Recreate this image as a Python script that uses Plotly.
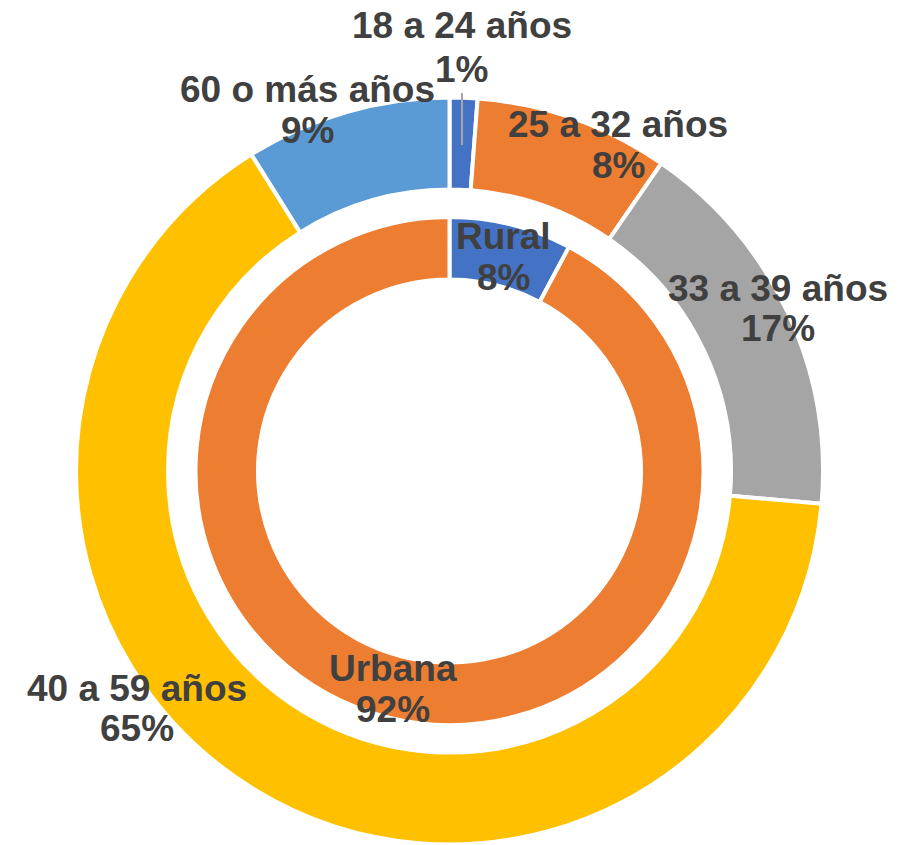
import plotly.graph_objects as go

# ---- data ----
age_labels = ["18 a 24 años", "25 a 32 años", "33 a 39 años", "40 a 59 años", "60 o más años"]
age_values = [1.2, 8.4, 16.8, 64.7, 8.9]
age_colors = ["#4472C4", "#ED7D31", "#A5A5A5", "#FFC000", "#5B9BD5"]

area_labels = ["Rural", "Urbana"]
area_values = [7.8, 92.2]
area_colors = ["#4472C4", "#ED7D31"]

OFF = 8  # page body margin
W, H = 913 - OFF, 845 - OFF
cx, cy = 449.5 - OFF, 471 - OFF
r_out, r_in = 373.5, 254

def dom(r):
    y0 = max(0.0, (H - cy - r) / H)
    y1 = min(1.0, (H - cy + r) / H)
    return dict(x=[(cx - r) / W, (cx + r) / W], y=[y0, y1])

fig = go.Figure()
fig.add_trace(go.Pie(
    labels=age_labels, values=age_values, hole=281.5 / r_out, sort=False,
    direction="clockwise", rotation=0, textinfo="none", hoverinfo="label+percent",
    marker=dict(colors=age_colors, line=dict(color="white", width=4)),
    domain=dom(r_out), showlegend=False,
))
fig.add_trace(go.Pie(
    labels=area_labels, values=area_values, hole=191.5 / r_in, sort=False,
    direction="clockwise", rotation=0, textinfo="none", hoverinfo="label+percent",
    marker=dict(colors=area_colors, line=dict(color="white", width=4)),
    domain=dom(r_in), showlegend=False,
))

# label placement (page-pixel centers of the two text lines)
age_pos = [(462, 26, 461, 69), (618, 125, 618, 166), (778, 288, 778, 329),
           (137, 688, 137, 728), (307, 89, 307, 131)]
area_pos = [(504, 237, 504, 277), (393, 668, 393, 709)]

def pct(vals):
    t = sum(vals)
    return [f"{v / t * 100:.0f}%" for v in vals]

font = dict(family="Liberation Sans, Arial, sans-serif", size=37, color="#404040")
anns = []
def px(x, y):
    return (x - OFF) / W, 1 - (y - OFF) / H

def add(label, p, pos):
    x1, y1, x2, y2 = pos
    for txt, x, y in ((label, x1, y1), (p, x2, y2)):
        ax, ay = px(x, y)
        anns.append(dict(text=f"<b>{txt}</b>", x=ax, y=ay, xref="paper", yref="paper",
                         showarrow=False, xanchor="center", yanchor="middle", font=font))

for lab, p, pos in zip(age_labels, pct(age_values), age_pos):
    add(lab, p, pos)
for lab, p, pos in zip(area_labels, pct(area_values), area_pos):
    add(lab, p, pos)

lx0, ly0 = px(462, 93)
lx1, ly1 = px(462, 145)
fig.update_layout(
    width=W, height=H, margin=dict(l=0, r=0, t=0, b=0),
    paper_bgcolor="white", plot_bgcolor="white",
    annotations=anns,
    shapes=[dict(type="line", xref="paper", yref="paper",
                 x0=lx0, x1=lx1, y0=ly0, y1=ly1,
                 line=dict(color="#A6A6A6", width=2))],
)

fig.write_html("out.html")
